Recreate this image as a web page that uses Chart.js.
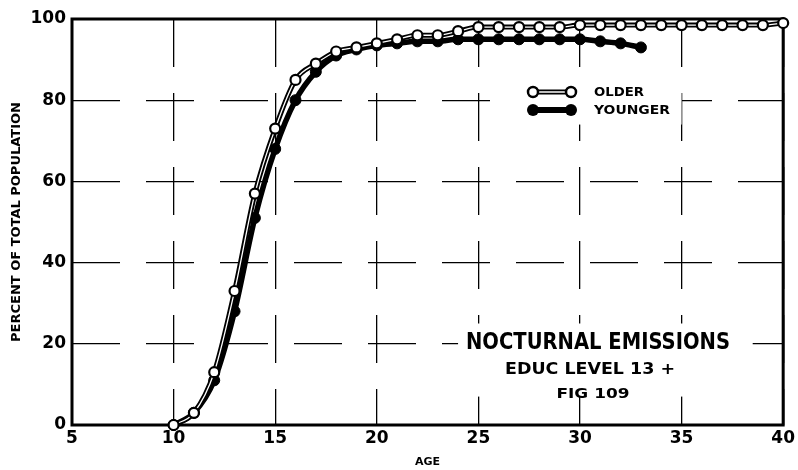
<!DOCTYPE html>
<html>
<head>
<meta charset="utf-8">
<script src="https://cdn.jsdelivr.net/npm/chart.js@4/dist/chart.umd.min.js"></script>
<style>
  html, body { margin: 0; padding: 0; background: #fff; }
  #wrap { width: 798px; height: 470px; }
</style>
</head>
<body>
<div id="wrap"><canvas id="chart" width="798" height="470"></canvas></div>
<script>
// ages and cumulative percent
var olderAges = [10, 11, 12, 13, 14, 15, 16, 17, 18, 19, 20, 21, 22, 23, 24, 25, 26, 27, 28, 29, 30, 31, 32, 33, 34, 35, 36, 37, 38, 39, 40];
var olderValues = [0, 3, 13, 33, 57, 73, 85, 89, 92, 93, 94, 95, 96, 96, 97, 98, 98, 98, 98, 98, 98.5, 98.5, 98.5, 98.5, 98.5, 98.5, 98.5, 98.5, 98.5, 98.5, 99];
var youngerAges = [10, 11, 12, 13, 14, 15, 16, 17, 18, 19, 20, 21, 22, 23, 24, 25, 26, 27, 28, 29, 30, 31, 32, 33];
var youngerValues = [0, 3, 11, 28, 51, 68, 80, 87, 91, 92.5, 93.5, 94, 94.5, 94.5, 95, 95, 95, 95, 95, 95, 95, 94.5, 94, 93];
var xTicks = [5, 10, 15, 20, 25, 30, 35, 40];
var yTicks = [0, 20, 40, 60, 80, 100];

var seriesNames = ["OLDER", "YOUNGER"];
var titleLines = ["NOCTURNAL EMISSIONS", "EDUC LEVEL 13 +", "FIG 109"];

function toPoints(xs, ys) {
    var out = [];
    for (var i = 0; i < xs.length; i++) {
        out.push({ x: xs[i], y: ys[i] });
    }
    return out;
}

var FONT = "'DejaVu Sans', sans-serif";

// draws text squeezed/stretched to a given width
function fitText(ctx, text, cx, cy, size, width) {
    ctx.save();
    ctx.font = "bold " + size + "px " + FONT;
    var w = ctx.measureText(text).width;
    ctx.translate(cx, cy);
    ctx.scale(width / w, 1);
    ctx.textAlign = "center";
    ctx.textBaseline = "middle";
    ctx.fillText(text, 0, 0);
    ctx.restore();
}

var overlayPlugin = {
    id: "overlay",
    beforeDatasetsDraw: function(chart) {
        var ctx = chart.ctx;
        var xs = chart.scales.x, ys = chart.scales.y;
        var a = chart.chartArea;
        ctx.save();
        // clear grid behind the title block and legend
        ctx.fillStyle = "#fff";
        ctx.fillRect(xs.getPixelForValue(24), ys.getPixelForValue(25), xs.getPixelForValue(38.5) - xs.getPixelForValue(24), ys.getPixelForValue(7) - ys.getPixelForValue(25));
        ctx.fillRect(xs.getPixelForValue(26.5), ys.getPixelForValue(86), xs.getPixelForValue(35) - xs.getPixelForValue(26.5), ys.getPixelForValue(74) - ys.getPixelForValue(86));
        // frame
        ctx.strokeStyle = "#000";
        ctx.lineWidth = 3;
        ctx.strokeRect(a.left, a.top, a.right - a.left, a.bottom - a.top);
        ctx.restore();
    },
    afterDatasetsDraw: function(chart) {
        var ctx = chart.ctx;
        ctx.save();
        ctx.fillStyle = "#000";
        fitText(ctx, titleLines[0], 598, 343, 23, 264);
        fitText(ctx, titleLines[1], 590, 370, 15, 170);
        fitText(ctx, titleLines[2], 593, 394, 14, 73);

        // legend
        var x0 = 533, x1 = 571;
        var rows = [92, 110];
        // older: double line with open circles
        ctx.strokeStyle = "#000";
        ctx.lineWidth = 5;
        ctx.beginPath(); ctx.moveTo(x0, rows[0]); ctx.lineTo(x1, rows[0]); ctx.stroke();
        ctx.strokeStyle = "#fff";
        ctx.lineWidth = 1.5;
        ctx.beginPath(); ctx.moveTo(x0, rows[0]); ctx.lineTo(x1, rows[0]); ctx.stroke();
        [x0, x1].forEach(function(x) {
            ctx.beginPath();
            ctx.arc(x, rows[0], 5, 0, Math.PI * 2);
            ctx.fillStyle = "#fff";
            ctx.fill();
            ctx.lineWidth = 2.5;
            ctx.strokeStyle = "#000";
            ctx.stroke();
        });
        // younger: solid line with filled circles
        ctx.strokeStyle = "#000";
        ctx.lineWidth = 6;
        ctx.beginPath(); ctx.moveTo(x0, rows[1]); ctx.lineTo(x1, rows[1]); ctx.stroke();
        ctx.fillStyle = "#000";
        [x0, x1].forEach(function(x) {
            ctx.beginPath();
            ctx.arc(x, rows[1], 6, 0, Math.PI * 2);
            ctx.fill();
        });
        fitText(ctx, seriesNames[0], 619, 93, 13, 50);
        fitText(ctx, seriesNames[1], 632, 111, 13, 76);
        ctx.restore();
    }
};

var tickFont = { family: FONT, size: 17, weight: "bold" };

new Chart(document.getElementById("chart"), {
    type: "line",
    data: {
        datasets: [
            {
                label: "OLDER points",
                data: toPoints(olderAges, olderValues),
                showLine: false,
                pointRadius: 5,
                pointBorderWidth: 2.2,
                pointBackgroundColor: "#fff",
                pointBorderColor: "#000",
                order: 0
            },
            {
                label: "OLDER inner",
                data: toPoints(olderAges, olderValues),
                borderColor: "#fff",
                borderWidth: 1.3,
                pointRadius: 0,
                cubicInterpolationMode: "monotone",
                order: 1
            },
            {
                label: "OLDER",
                data: toPoints(olderAges, olderValues),
                borderColor: "#000",
                borderWidth: 5,
                pointRadius: 0,
                cubicInterpolationMode: "monotone",
                order: 2
            },
            {
                label: "YOUNGER",
                data: toPoints(youngerAges, youngerValues),
                borderColor: "#000",
                borderWidth: 5.5,
                pointRadius: 5.5,
                pointBackgroundColor: "#000",
                pointBorderColor: "#000",
                pointBorderWidth: 1,
                cubicInterpolationMode: "monotone",
                order: 3
            }
        ]
    },
    options: {
        responsive: false,
        animation: false,
        clip: false,
        layout: { padding: { top: 19, right: 12, left: 0, bottom: 0 } },
        plugins: {
            legend: { display: false },
            tooltip: { enabled: false }
        },
        scales: {
            x: {
                type: "linear",
                min: 5,
                max: 40,
                afterBuildTicks: function(scale) {
                    scale.ticks = xTicks.map(function(v) { return { value: v }; });
                },
                afterFit: function(scale) { scale.height = 45; },
                grid: { color: "#000", lineWidth: 1.3, drawTicks: false },
                border: { display: false, dash: [48, 26] },
                ticks: { color: "#000", font: tickFont, padding: 3, maxRotation: 0 },
                title: {
                    display: true,
                    text: "AGE",
                    color: "#000",
                    font: { family: FONT, size: 11, weight: "bold" },
                    padding: { top: 0, bottom: 1 }
                }
            },
            y: {
                min: 0,
                max: 100,
                afterBuildTicks: function(scale) {
                    scale.ticks = yTicks.map(function(v) { return { value: v }; });
                },
                afterFit: function(scale) { scale.width = 72; },
                grid: { color: "#000", lineWidth: 1.3, drawTicks: false },
                border: { display: false, dash: [48, 26] },
                ticks: { color: "#000", font: tickFont, padding: 6 },
                title: {
                    display: true,
                    text: "PERCENT OF TOTAL POPULATION",
                    color: "#000",
                    font: { family: FONT, size: 13, weight: "bold" },
                    padding: { top: 9, bottom: 4 }
                }
            }
        }
    },
    plugins: [overlayPlugin]
});
</script>
</body>
</html>
